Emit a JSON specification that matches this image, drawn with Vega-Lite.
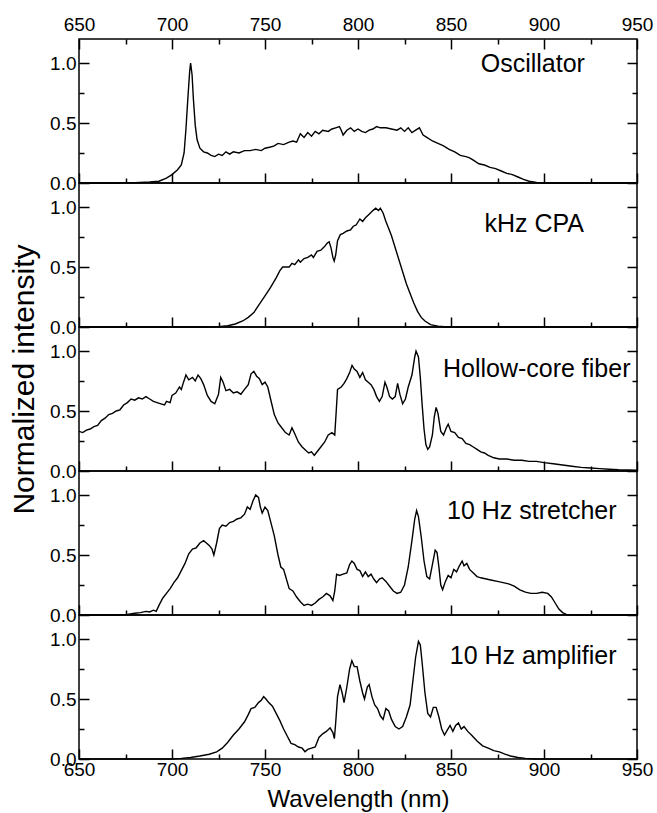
{
"$schema": "https://vega.github.io/schema/vega-lite/v6.json",
"background": "white",
"padding": {"left": 8, "top": 14, "right": 2, "bottom": 2},
"spacing": 0,
"bounds": "flush",
"datasets": {
"osc": [{"wl":650,"v":0},{"wl":670,"v":0},{"wl":680,"v":0.003},{"wl":688,"v":0.008},{"wl":693,"v":0.015},{"wl":697,"v":0.04},{"wl":700,"v":0.07},{"wl":703,"v":0.11},{"wl":705,"v":0.15},{"wl":706.5,"v":0.25},{"wl":707.5,"v":0.45},{"wl":708.5,"v":0.7},{"wl":709.5,"v":0.93},{"wl":710,"v":1.0},{"wl":710.8,"v":0.9},{"wl":711.5,"v":0.7},{"wl":712.5,"v":0.48},{"wl":713.5,"v":0.36},{"wl":715,"v":0.29},{"wl":717,"v":0.26},{"wl":719,"v":0.25},{"wl":721,"v":0.23},{"wl":723,"v":0.22},{"wl":725,"v":0.24},{"wl":727,"v":0.23},{"wl":729,"v":0.26},{"wl":731,"v":0.24},{"wl":733,"v":0.26},{"wl":736,"v":0.25},{"wl":739,"v":0.27},{"wl":742,"v":0.27},{"wl":745,"v":0.28},{"wl":748,"v":0.27},{"wl":750,"v":0.29},{"wl":753,"v":0.3},{"wl":755,"v":0.31},{"wl":757,"v":0.33},{"wl":760,"v":0.32},{"wl":763,"v":0.34},{"wl":765,"v":0.35},{"wl":767,"v":0.34},{"wl":769,"v":0.41},{"wl":771,"v":0.38},{"wl":773,"v":0.42},{"wl":775,"v":0.39},{"wl":777,"v":0.43},{"wl":779,"v":0.41},{"wl":781,"v":0.44},{"wl":784,"v":0.43},{"wl":786,"v":0.45},{"wl":788,"v":0.46},{"wl":790,"v":0.47},{"wl":791,"v":0.44},{"wl":792,"v":0.4},{"wl":794,"v":0.44},{"wl":796,"v":0.46},{"wl":798,"v":0.43},{"wl":800,"v":0.45},{"wl":802,"v":0.43},{"wl":804,"v":0.42},{"wl":806,"v":0.44},{"wl":808,"v":0.45},{"wl":810,"v":0.47},{"wl":812,"v":0.46},{"wl":815,"v":0.46},{"wl":818,"v":0.45},{"wl":821,"v":0.44},{"wl":823,"v":0.46},{"wl":825,"v":0.43},{"wl":827,"v":0.46},{"wl":829,"v":0.42},{"wl":831,"v":0.44},{"wl":833,"v":0.46},{"wl":835,"v":0.4},{"wl":837,"v":0.38},{"wl":840,"v":0.35},{"wl":843,"v":0.33},{"wl":846,"v":0.31},{"wl":849,"v":0.28},{"wl":852,"v":0.26},{"wl":855,"v":0.23},{"wl":858,"v":0.22},{"wl":860,"v":0.21},{"wl":862,"v":0.19},{"wl":865,"v":0.16},{"wl":868,"v":0.15},{"wl":871,"v":0.13},{"wl":874,"v":0.12},{"wl":877,"v":0.1},{"wl":880,"v":0.08},{"wl":883,"v":0.07},{"wl":886,"v":0.05},{"wl":889,"v":0.03},{"wl":892,"v":0.015},{"wl":896,"v":0.005},{"wl":900,"v":0},{"wl":950,"v":0}],
"cpa": [{"wl":650,"v":0},{"wl":720,"v":0},{"wl":725,"v":0.003},{"wl":730,"v":0.01},{"wl":734,"v":0.025},{"wl":738,"v":0.05},{"wl":741,"v":0.08},{"wl":744,"v":0.12},{"wl":747,"v":0.19},{"wl":750,"v":0.26},{"wl":753,"v":0.33},{"wl":756,"v":0.41},{"wl":758,"v":0.47},{"wl":759.5,"v":0.5},{"wl":761,"v":0.5},{"wl":763,"v":0.5},{"wl":764.5,"v":0.53},{"wl":766,"v":0.52},{"wl":768,"v":0.56},{"wl":769,"v":0.54},{"wl":771,"v":0.57},{"wl":773,"v":0.58},{"wl":775,"v":0.6},{"wl":776,"v":0.58},{"wl":778,"v":0.63},{"wl":780,"v":0.64},{"wl":782,"v":0.67},{"wl":783.5,"v":0.7},{"wl":784.5,"v":0.71},{"wl":785.5,"v":0.66},{"wl":786.5,"v":0.58},{"wl":787.2,"v":0.55},{"wl":788,"v":0.6},{"wl":789,"v":0.72},{"wl":790.5,"v":0.77},{"wl":792,"v":0.78},{"wl":794,"v":0.8},{"wl":796,"v":0.81},{"wl":797.5,"v":0.84},{"wl":799,"v":0.85},{"wl":801,"v":0.9},{"wl":802.5,"v":0.88},{"wl":804,"v":0.91},{"wl":806,"v":0.94},{"wl":808,"v":0.97},{"wl":809.5,"v":0.99},{"wl":811,"v":0.97},{"wl":812,"v":0.99},{"wl":813.5,"v":0.95},{"wl":815,"v":0.88},{"wl":816.5,"v":0.82},{"wl":818,"v":0.76},{"wl":820,"v":0.66},{"wl":822,"v":0.56},{"wl":824,"v":0.46},{"wl":826,"v":0.36},{"wl":828,"v":0.28},{"wl":830,"v":0.2},{"wl":832,"v":0.13},{"wl":834,"v":0.08},{"wl":836,"v":0.05},{"wl":839,"v":0.02},{"wl":843,"v":0.007},{"wl":848,"v":0},{"wl":950,"v":0}],
"hcf": [{"wl":650,"v":0.33},{"wl":652,"v":0.32},{"wl":654,"v":0.34},{"wl":656,"v":0.35},{"wl":658,"v":0.37},{"wl":660,"v":0.38},{"wl":662,"v":0.42},{"wl":664,"v":0.44},{"wl":666,"v":0.47},{"wl":668,"v":0.48},{"wl":670,"v":0.5},{"wl":672,"v":0.51},{"wl":674,"v":0.55},{"wl":676,"v":0.57},{"wl":678,"v":0.6},{"wl":680,"v":0.59},{"wl":682,"v":0.61},{"wl":684,"v":0.6},{"wl":686,"v":0.62},{"wl":688,"v":0.6},{"wl":690,"v":0.58},{"wl":692,"v":0.57},{"wl":694,"v":0.56},{"wl":696,"v":0.55},{"wl":697,"v":0.58},{"wl":699,"v":0.57},{"wl":700,"v":0.63},{"wl":702,"v":0.65},{"wl":704,"v":0.7},{"wl":705,"v":0.68},{"wl":706,"v":0.73},{"wl":707.5,"v":0.8},{"wl":709,"v":0.76},{"wl":711,"v":0.78},{"wl":712.5,"v":0.75},{"wl":714,"v":0.8},{"wl":715.5,"v":0.77},{"wl":717,"v":0.72},{"wl":719,"v":0.63},{"wl":721,"v":0.58},{"wl":723,"v":0.56},{"wl":725,"v":0.64},{"wl":726.2,"v":0.78},{"wl":727.5,"v":0.74},{"wl":729,"v":0.67},{"wl":731,"v":0.68},{"wl":733,"v":0.65},{"wl":735,"v":0.66},{"wl":737,"v":0.64},{"wl":739,"v":0.68},{"wl":741,"v":0.72},{"wl":742.5,"v":0.81},{"wl":744,"v":0.83},{"wl":745.5,"v":0.79},{"wl":747,"v":0.77},{"wl":748.5,"v":0.72},{"wl":750,"v":0.74},{"wl":751.5,"v":0.7},{"wl":753,"v":0.6},{"wl":755,"v":0.47},{"wl":757,"v":0.4},{"wl":759,"v":0.36},{"wl":761,"v":0.32},{"wl":763,"v":0.3},{"wl":764.5,"v":0.36},{"wl":766,"v":0.31},{"wl":768,"v":0.24},{"wl":770,"v":0.2},{"wl":772,"v":0.17},{"wl":773.5,"v":0.15},{"wl":775,"v":0.16},{"wl":776.5,"v":0.13},{"wl":778,"v":0.16},{"wl":780,"v":0.2},{"wl":782,"v":0.24},{"wl":784,"v":0.3},{"wl":786,"v":0.32},{"wl":787.5,"v":0.3},{"wl":788.3,"v":0.5},{"wl":789,"v":0.68},{"wl":791,"v":0.7},{"wl":792.5,"v":0.73},{"wl":794,"v":0.77},{"wl":795.5,"v":0.82},{"wl":796.8,"v":0.88},{"wl":798,"v":0.85},{"wl":799.5,"v":0.83},{"wl":801,"v":0.78},{"wl":802.5,"v":0.82},{"wl":804,"v":0.76},{"wl":805.5,"v":0.74},{"wl":807,"v":0.72},{"wl":808.5,"v":0.68},{"wl":810,"v":0.62},{"wl":811.5,"v":0.58},{"wl":813,"v":0.62},{"wl":814.5,"v":0.74},{"wl":815.5,"v":0.7},{"wl":817,"v":0.62},{"wl":818.5,"v":0.6},{"wl":820,"v":0.62},{"wl":821.3,"v":0.73},{"wl":822.5,"v":0.64},{"wl":824,"v":0.56},{"wl":825.5,"v":0.6},{"wl":827,"v":0.7},{"wl":829,"v":0.8},{"wl":830.5,"v":0.95},{"wl":831.2,"v":1.0},{"wl":832.5,"v":0.95},{"wl":833.5,"v":0.78},{"wl":834.5,"v":0.55},{"wl":835.5,"v":0.35},{"wl":836.5,"v":0.22},{"wl":837.5,"v":0.18},{"wl":838.5,"v":0.2},{"wl":840,"v":0.3},{"wl":841,"v":0.45},{"wl":842,"v":0.53},{"wl":843,"v":0.48},{"wl":844.5,"v":0.33},{"wl":846,"v":0.3},{"wl":847.5,"v":0.36},{"wl":848.5,"v":0.39},{"wl":850,"v":0.33},{"wl":852,"v":0.32},{"wl":854,"v":0.28},{"wl":856,"v":0.27},{"wl":858,"v":0.23},{"wl":860,"v":0.22},{"wl":862,"v":0.2},{"wl":864,"v":0.18},{"wl":866,"v":0.16},{"wl":868,"v":0.15},{"wl":870,"v":0.13},{"wl":873,"v":0.11},{"wl":876,"v":0.1},{"wl":880,"v":0.1},{"wl":884,"v":0.09},{"wl":888,"v":0.09},{"wl":892,"v":0.08},{"wl":896,"v":0.08},{"wl":900,"v":0.07},{"wl":905,"v":0.06},{"wl":910,"v":0.05},{"wl":915,"v":0.04},{"wl":920,"v":0.03},{"wl":925,"v":0.025},{"wl":930,"v":0.02},{"wl":935,"v":0.015},{"wl":940,"v":0.01},{"wl":945,"v":0.008},{"wl":950,"v":0.006}],
"str": [{"wl":650,"v":0},{"wl":672,"v":0},{"wl":676,"v":0.005},{"wl":680,"v":0.015},{"wl":683,"v":0.02},{"wl":686,"v":0.03},{"wl":688,"v":0.025},{"wl":690,"v":0.04},{"wl":691.5,"v":0.03},{"wl":693,"v":0.08},{"wl":695,"v":0.14},{"wl":697,"v":0.18},{"wl":699,"v":0.22},{"wl":701,"v":0.27},{"wl":703,"v":0.31},{"wl":705,"v":0.37},{"wl":707,"v":0.43},{"wl":709,"v":0.51},{"wl":711,"v":0.55},{"wl":713,"v":0.56},{"wl":715,"v":0.6},{"wl":717,"v":0.62},{"wl":718.5,"v":0.6},{"wl":720,"v":0.58},{"wl":721.5,"v":0.55},{"wl":722.5,"v":0.5},{"wl":724,"v":0.6},{"wl":725.5,"v":0.72},{"wl":727,"v":0.75},{"wl":729,"v":0.74},{"wl":731,"v":0.77},{"wl":733,"v":0.78},{"wl":735,"v":0.8},{"wl":737,"v":0.81},{"wl":739,"v":0.84},{"wl":740.5,"v":0.9},{"wl":742,"v":0.88},{"wl":743.5,"v":0.95},{"wl":745,"v":1.0},{"wl":746.5,"v":0.98},{"wl":747.5,"v":0.9},{"wl":748.5,"v":0.85},{"wl":750,"v":0.9},{"wl":751.5,"v":0.87},{"wl":753,"v":0.78},{"wl":755,"v":0.66},{"wl":757,"v":0.5},{"wl":758.5,"v":0.4},{"wl":760,"v":0.38},{"wl":761.5,"v":0.3},{"wl":763,"v":0.22},{"wl":765,"v":0.2},{"wl":767,"v":0.15},{"wl":769,"v":0.11},{"wl":771,"v":0.08},{"wl":773,"v":0.09},{"wl":775,"v":0.08},{"wl":777,"v":0.1},{"wl":779,"v":0.13},{"wl":781,"v":0.15},{"wl":783,"v":0.18},{"wl":785,"v":0.16},{"wl":786.5,"v":0.12},{"wl":787.5,"v":0.2},{"wl":788.5,"v":0.34},{"wl":790,"v":0.33},{"wl":792,"v":0.34},{"wl":794,"v":0.35},{"wl":795.5,"v":0.42},{"wl":796.7,"v":0.45},{"wl":798,"v":0.43},{"wl":799.5,"v":0.38},{"wl":801,"v":0.37},{"wl":802.5,"v":0.32},{"wl":804,"v":0.36},{"wl":805.5,"v":0.32},{"wl":807,"v":0.34},{"wl":808.5,"v":0.3},{"wl":810,"v":0.27},{"wl":811.5,"v":0.3},{"wl":813,"v":0.31},{"wl":815,"v":0.28},{"wl":817,"v":0.24},{"wl":819,"v":0.2},{"wl":821,"v":0.18},{"wl":823,"v":0.19},{"wl":825,"v":0.25},{"wl":827,"v":0.4},{"wl":829,"v":0.62},{"wl":830.5,"v":0.8},{"wl":831.5,"v":0.87},{"wl":832.5,"v":0.82},{"wl":834,"v":0.65},{"wl":835.5,"v":0.45},{"wl":837,"v":0.32},{"wl":838.5,"v":0.3},{"wl":840,"v":0.42},{"wl":841.5,"v":0.54},{"wl":842.5,"v":0.52},{"wl":843.5,"v":0.4},{"wl":844.5,"v":0.25},{"wl":845.5,"v":0.21},{"wl":847,"v":0.28},{"wl":848.5,"v":0.33},{"wl":850,"v":0.31},{"wl":851.5,"v":0.38},{"wl":853,"v":0.36},{"wl":854.5,"v":0.41},{"wl":856,"v":0.45},{"wl":857,"v":0.41},{"wl":858.5,"v":0.43},{"wl":860,"v":0.38},{"wl":862,"v":0.35},{"wl":864,"v":0.32},{"wl":866,"v":0.31},{"wl":869,"v":0.3},{"wl":872,"v":0.29},{"wl":875,"v":0.28},{"wl":878,"v":0.27},{"wl":881,"v":0.26},{"wl":884,"v":0.24},{"wl":887,"v":0.21},{"wl":890,"v":0.19},{"wl":893,"v":0.18},{"wl":896,"v":0.18},{"wl":899,"v":0.19},{"wl":902,"v":0.18},{"wl":904,"v":0.15},{"wl":906,"v":0.1},{"wl":908,"v":0.05},{"wl":910,"v":0.02},{"wl":912,"v":0.005},{"wl":915,"v":0},{"wl":950,"v":0}],
"amp": [{"wl":650,"v":0},{"wl":700,"v":0},{"wl":705,"v":0.005},{"wl":710,"v":0.012},{"wl":715,"v":0.025},{"wl":720,"v":0.04},{"wl":724,"v":0.06},{"wl":727,"v":0.09},{"wl":730,"v":0.14},{"wl":733,"v":0.2},{"wl":736,"v":0.25},{"wl":739,"v":0.31},{"wl":741,"v":0.37},{"wl":742.5,"v":0.42},{"wl":744.5,"v":0.43},{"wl":746.5,"v":0.47},{"wl":748,"v":0.49},{"wl":749.3,"v":0.52},{"wl":750.5,"v":0.5},{"wl":752,"v":0.47},{"wl":754,"v":0.44},{"wl":756,"v":0.38},{"wl":758,"v":0.32},{"wl":760,"v":0.25},{"wl":762,"v":0.19},{"wl":764,"v":0.13},{"wl":766,"v":0.12},{"wl":768,"v":0.1},{"wl":770,"v":0.09},{"wl":771.5,"v":0.06},{"wl":773,"v":0.08},{"wl":775,"v":0.09},{"wl":777,"v":0.1},{"wl":779,"v":0.18},{"wl":781,"v":0.21},{"wl":783,"v":0.23},{"wl":785,"v":0.26},{"wl":786.5,"v":0.22},{"wl":787.3,"v":0.17},{"wl":788,"v":0.3},{"wl":789,"v":0.52},{"wl":790.3,"v":0.62},{"wl":791.5,"v":0.55},{"wl":792.5,"v":0.47},{"wl":794,"v":0.6},{"wl":795.5,"v":0.75},{"wl":796.7,"v":0.82},{"wl":798,"v":0.77},{"wl":799.5,"v":0.77},{"wl":801,"v":0.65},{"wl":802.5,"v":0.55},{"wl":803.5,"v":0.5},{"wl":805,"v":0.6},{"wl":806,"v":0.62},{"wl":807.5,"v":0.52},{"wl":809,"v":0.45},{"wl":810.5,"v":0.42},{"wl":812,"v":0.36},{"wl":813.5,"v":0.33},{"wl":815,"v":0.42},{"wl":816.5,"v":0.4},{"wl":818,"v":0.33},{"wl":820,"v":0.27},{"wl":822,"v":0.25},{"wl":824,"v":0.27},{"wl":826,"v":0.35},{"wl":828,"v":0.45},{"wl":829.5,"v":0.65},{"wl":831,"v":0.85},{"wl":832.5,"v":0.98},{"wl":833.5,"v":0.95},{"wl":834.5,"v":0.8},{"wl":836,"v":0.55},{"wl":837.5,"v":0.38},{"wl":839,"v":0.35},{"wl":840.5,"v":0.43},{"wl":842,"v":0.43},{"wl":843.5,"v":0.35},{"wl":845,"v":0.25},{"wl":846.5,"v":0.2},{"wl":848,"v":0.24},{"wl":849.5,"v":0.28},{"wl":851,"v":0.23},{"wl":852.5,"v":0.28},{"wl":854,"v":0.3},{"wl":855.5,"v":0.25},{"wl":857,"v":0.27},{"wl":859,"v":0.23},{"wl":861,"v":0.2},{"wl":864,"v":0.15},{"wl":867,"v":0.11},{"wl":870,"v":0.09},{"wl":873,"v":0.07},{"wl":876,"v":0.06},{"wl":879,"v":0.04},{"wl":882,"v":0.025},{"wl":886,"v":0.012},{"wl":890,"v":0.005},{"wl":895,"v":0},{"wl":950,"v":0}]
},
"vconcat": [
{"width": 558, "height": 144,
 "layer": [
  {"data": {"name": "osc"}, "mark": {"type": "line", "color": "black", "strokeWidth": 1.4},
   "encoding": {
    "x": {"field": "wl", "type": "quantitative", "scale": {"domain": [650, 950], "nice": false, "zero": false}, "axis": {"orient": "bottom", "values": [650,700,750,800,850,900,950], "labels": false, "title": null, "tickSize": -10}},
    "y": {"field": "v", "type": "quantitative", "scale": {"domain": [0, 1.2], "nice": false}, "axis": {"orient": "left", "values": [0,0.5,1], "format": ".1f", "labelPadding": 13, "title": null, "tickSize": -10}}}},
  {"data": {"values": [{}]}, "mark": {"type": "text", "text": "Oscillator", "align": "right", "baseline": "middle", "fontSize": 25, "font": "Liberation Sans", "color": "black"},
   "encoding": {
    "x": {"datum": 922, "type": "quantitative", "axis": {"orient": "bottom", "values": [675,725,775,825,875,925], "labels": false, "title": null, "tickSize": -5}},
    "y": {"datum": 0.99, "type": "quantitative", "axis": {"orient": "right", "values": [0,0.5,1], "labels": false, "title": null, "tickSize": -10}}}},
  {"data": {"values": [{}]}, "mark": {"type": "text", "text": ""},
   "encoding": {
    "x": {"datum": 800, "type": "quantitative", "axis": {"orient": "top", "values": [650,700,750,800,850,900,950], "labelPadding": 15, "title": null, "tickSize": -10}},
    "y": {"datum": 0.5, "type": "quantitative", "axis": {"orient": "right", "values": [0.25,0.75], "labels": false, "title": null, "tickSize": -5}}}},
  {"data": {"values": [{}]}, "mark": {"type": "text", "text": ""},
   "encoding": {
    "x": {"datum": 800, "type": "quantitative", "axis": {"orient": "top", "values": [675,725,775,825,875,925], "labels": false, "title": null, "tickSize": -5}},
    "y": {"datum": 0.5, "type": "quantitative", "axis": {"orient": "left", "values": [0.25,0.75], "labels": false, "title": null, "tickSize": -5}}}}
 ],
 "resolve": {"axis": {"x": "independent", "y": "independent"}}
},
{"width": 558, "height": 144,
 "layer": [
  {"data": {"name": "cpa"}, "mark": {"type": "line", "color": "black", "strokeWidth": 1.4},
   "encoding": {
    "x": {"field": "wl", "type": "quantitative", "scale": {"domain": [650, 950], "nice": false, "zero": false}, "axis": {"orient": "bottom", "values": [650,700,750,800,850,900,950], "labels": false, "title": null, "tickSize": -10}},
    "y": {"field": "v", "type": "quantitative", "scale": {"domain": [0, 1.2], "nice": false}, "axis": {"orient": "left", "values": [0,0.5,1], "format": ".1f", "labelPadding": 13, "title": null, "tickSize": -10}}}},
  {"data": {"values": [{}]}, "mark": {"type": "text", "text": "kHz CPA", "align": "right", "baseline": "middle", "fontSize": 25, "font": "Liberation Sans", "color": "black"},
   "encoding": {
    "x": {"datum": 921.5, "type": "quantitative", "axis": {"orient": "bottom", "values": [675,725,775,825,875,925], "labels": false, "title": null, "tickSize": -5}},
    "y": {"datum": 0.86, "type": "quantitative", "axis": {"orient": "right", "values": [0,0.5,1], "labels": false, "title": null, "tickSize": -10}}}},
  {"data": {"values": [{}]}, "mark": {"type": "text", "text": ""},
   "encoding": {
    "x": {"datum": 800, "type": "quantitative", "axis": null},
    "y": {"datum": 0.5, "type": "quantitative", "axis": {"orient": "right", "values": [0.25,0.75], "labels": false, "title": null, "tickSize": -5}}}},
  {"data": {"values": [{}]}, "mark": {"type": "text", "text": ""},
   "encoding": {
    "x": {"datum": 800, "type": "quantitative", "axis": null},
    "y": {"datum": 0.5, "type": "quantitative", "axis": {"orient": "left", "values": [0.25,0.75], "labels": false, "title": null, "tickSize": -5}}}}
 ],
 "resolve": {"axis": {"x": "independent", "y": "independent"}}
},
{"width": 558, "height": 144,
 "layer": [
  {"data": {"name": "hcf"}, "mark": {"type": "line", "color": "black", "strokeWidth": 1.4},
   "encoding": {
    "x": {"field": "wl", "type": "quantitative", "scale": {"domain": [650, 950], "nice": false, "zero": false}, "axis": {"orient": "bottom", "values": [650,700,750,800,850,900,950], "labels": false, "title": null, "tickSize": -10}},
    "y": {"field": "v", "type": "quantitative", "scale": {"domain": [0, 1.2], "nice": false}, "axis": {"orient": "left", "values": [0,0.5,1], "format": ".1f", "labelPadding": 13, "title": "Normalized intensity", "titleFontSize": 30, "titlePadding": 10, "titleY": 52, "tickSize": -10}}}},
  {"data": {"values": [{}]}, "mark": {"type": "text", "text": "Hollow-core fiber", "align": "right", "baseline": "middle", "fontSize": 25, "font": "Liberation Sans", "color": "black"},
   "encoding": {
    "x": {"datum": 946.5, "type": "quantitative", "axis": {"orient": "bottom", "values": [675,725,775,825,875,925], "labels": false, "title": null, "tickSize": -5}},
    "y": {"datum": 0.85, "type": "quantitative", "axis": {"orient": "right", "values": [0,0.5,1], "labels": false, "title": null, "tickSize": -10}}}},
  {"data": {"values": [{}]}, "mark": {"type": "text", "text": ""},
   "encoding": {
    "x": {"datum": 800, "type": "quantitative", "axis": null},
    "y": {"datum": 0.5, "type": "quantitative", "axis": {"orient": "right", "values": [0.25,0.75], "labels": false, "title": null, "tickSize": -5}}}},
  {"data": {"values": [{}]}, "mark": {"type": "text", "text": ""},
   "encoding": {
    "x": {"datum": 800, "type": "quantitative", "axis": null},
    "y": {"datum": 0.5, "type": "quantitative", "axis": {"orient": "left", "values": [0.25,0.75], "labels": false, "title": null, "tickSize": -5}}}}
 ],
 "resolve": {"axis": {"x": "independent", "y": "independent"}}
},
{"width": 558, "height": 144,
 "layer": [
  {"data": {"name": "str"}, "mark": {"type": "line", "color": "black", "strokeWidth": 1.4},
   "encoding": {
    "x": {"field": "wl", "type": "quantitative", "scale": {"domain": [650, 950], "nice": false, "zero": false}, "axis": {"orient": "bottom", "values": [650,700,750,800,850,900,950], "labels": false, "title": null, "tickSize": -10}},
    "y": {"field": "v", "type": "quantitative", "scale": {"domain": [0, 1.2], "nice": false}, "axis": {"orient": "left", "values": [0,0.5,1], "format": ".1f", "labelPadding": 13, "title": null, "tickSize": -10}}}},
  {"data": {"values": [{}]}, "mark": {"type": "text", "text": "10 Hz stretcher", "align": "right", "baseline": "middle", "fontSize": 25, "font": "Liberation Sans", "color": "black"},
   "encoding": {
    "x": {"datum": 939, "type": "quantitative", "axis": {"orient": "bottom", "values": [675,725,775,825,875,925], "labels": false, "title": null, "tickSize": -5}},
    "y": {"datum": 0.87, "type": "quantitative", "axis": {"orient": "right", "values": [0,0.5,1], "labels": false, "title": null, "tickSize": -10}}}},
  {"data": {"values": [{}]}, "mark": {"type": "text", "text": ""},
   "encoding": {
    "x": {"datum": 800, "type": "quantitative", "axis": null},
    "y": {"datum": 0.5, "type": "quantitative", "axis": {"orient": "right", "values": [0.25,0.75], "labels": false, "title": null, "tickSize": -5}}}},
  {"data": {"values": [{}]}, "mark": {"type": "text", "text": ""},
   "encoding": {
    "x": {"datum": 800, "type": "quantitative", "axis": null},
    "y": {"datum": 0.5, "type": "quantitative", "axis": {"orient": "left", "values": [0.25,0.75], "labels": false, "title": null, "tickSize": -5}}}}
 ],
 "resolve": {"axis": {"x": "independent", "y": "independent"}}
},
{"width": 558, "height": 144,
 "layer": [
  {"data": {"name": "amp"}, "mark": {"type": "line", "color": "black", "strokeWidth": 1.4},
   "encoding": {
    "x": {"field": "wl", "type": "quantitative", "scale": {"domain": [650, 950], "nice": false, "zero": false}, "axis": {"orient": "bottom", "values": [650,700,750,800,850,900,950], "labelPadding": 11, "title": "Wavelength (nm)", "titleFontSize": 24, "titlePadding": 8, "tickSize": -10}},
    "y": {"field": "v", "type": "quantitative", "scale": {"domain": [0, 1.2], "nice": false}, "axis": {"orient": "left", "values": [0,0.5,1], "format": ".1f", "labelPadding": 13, "title": null, "tickSize": -10}}}},
  {"data": {"values": [{}]}, "mark": {"type": "text", "text": "10 Hz amplifier", "align": "right", "baseline": "middle", "fontSize": 25, "font": "Liberation Sans", "color": "black"},
   "encoding": {
    "x": {"datum": 939, "type": "quantitative", "axis": {"orient": "bottom", "values": [675,725,775,825,875,925], "labels": false, "title": null, "tickSize": -5}},
    "y": {"datum": 0.86, "type": "quantitative", "axis": {"orient": "right", "values": [0,0.5,1], "labels": false, "title": null, "tickSize": -10}}}},
  {"data": {"values": [{}]}, "mark": {"type": "text", "text": ""},
   "encoding": {
    "x": {"datum": 800, "type": "quantitative", "axis": null},
    "y": {"datum": 0.5, "type": "quantitative", "axis": {"orient": "right", "values": [0.25,0.75], "labels": false, "title": null, "tickSize": -5}}}},
  {"data": {"values": [{}]}, "mark": {"type": "text", "text": ""},
   "encoding": {
    "x": {"datum": 800, "type": "quantitative", "axis": null},
    "y": {"datum": 0.5, "type": "quantitative", "axis": {"orient": "left", "values": [0.25,0.75], "labels": false, "title": null, "tickSize": -5}}}}
 ],
 "resolve": {"axis": {"x": "independent", "y": "independent"}}
}
],
"config": {
 "view": {"stroke": "black", "strokeWidth": 1.5},
 "font": "Liberation Sans",
 "axis": {"domain": false, "grid": false, "ticks": true, "tickColor": "black", "tickWidth": 1.5, "tickOpacity": 1, "labelFont": "Liberation Sans", "labelFontSize": 19, "labelColor": "black", "labelFlush": false, "labelOverlap": false, "labelBound": false, "titleFont": "Liberation Sans", "titleColor": "black", "titleFontWeight": "normal"}
}
}
